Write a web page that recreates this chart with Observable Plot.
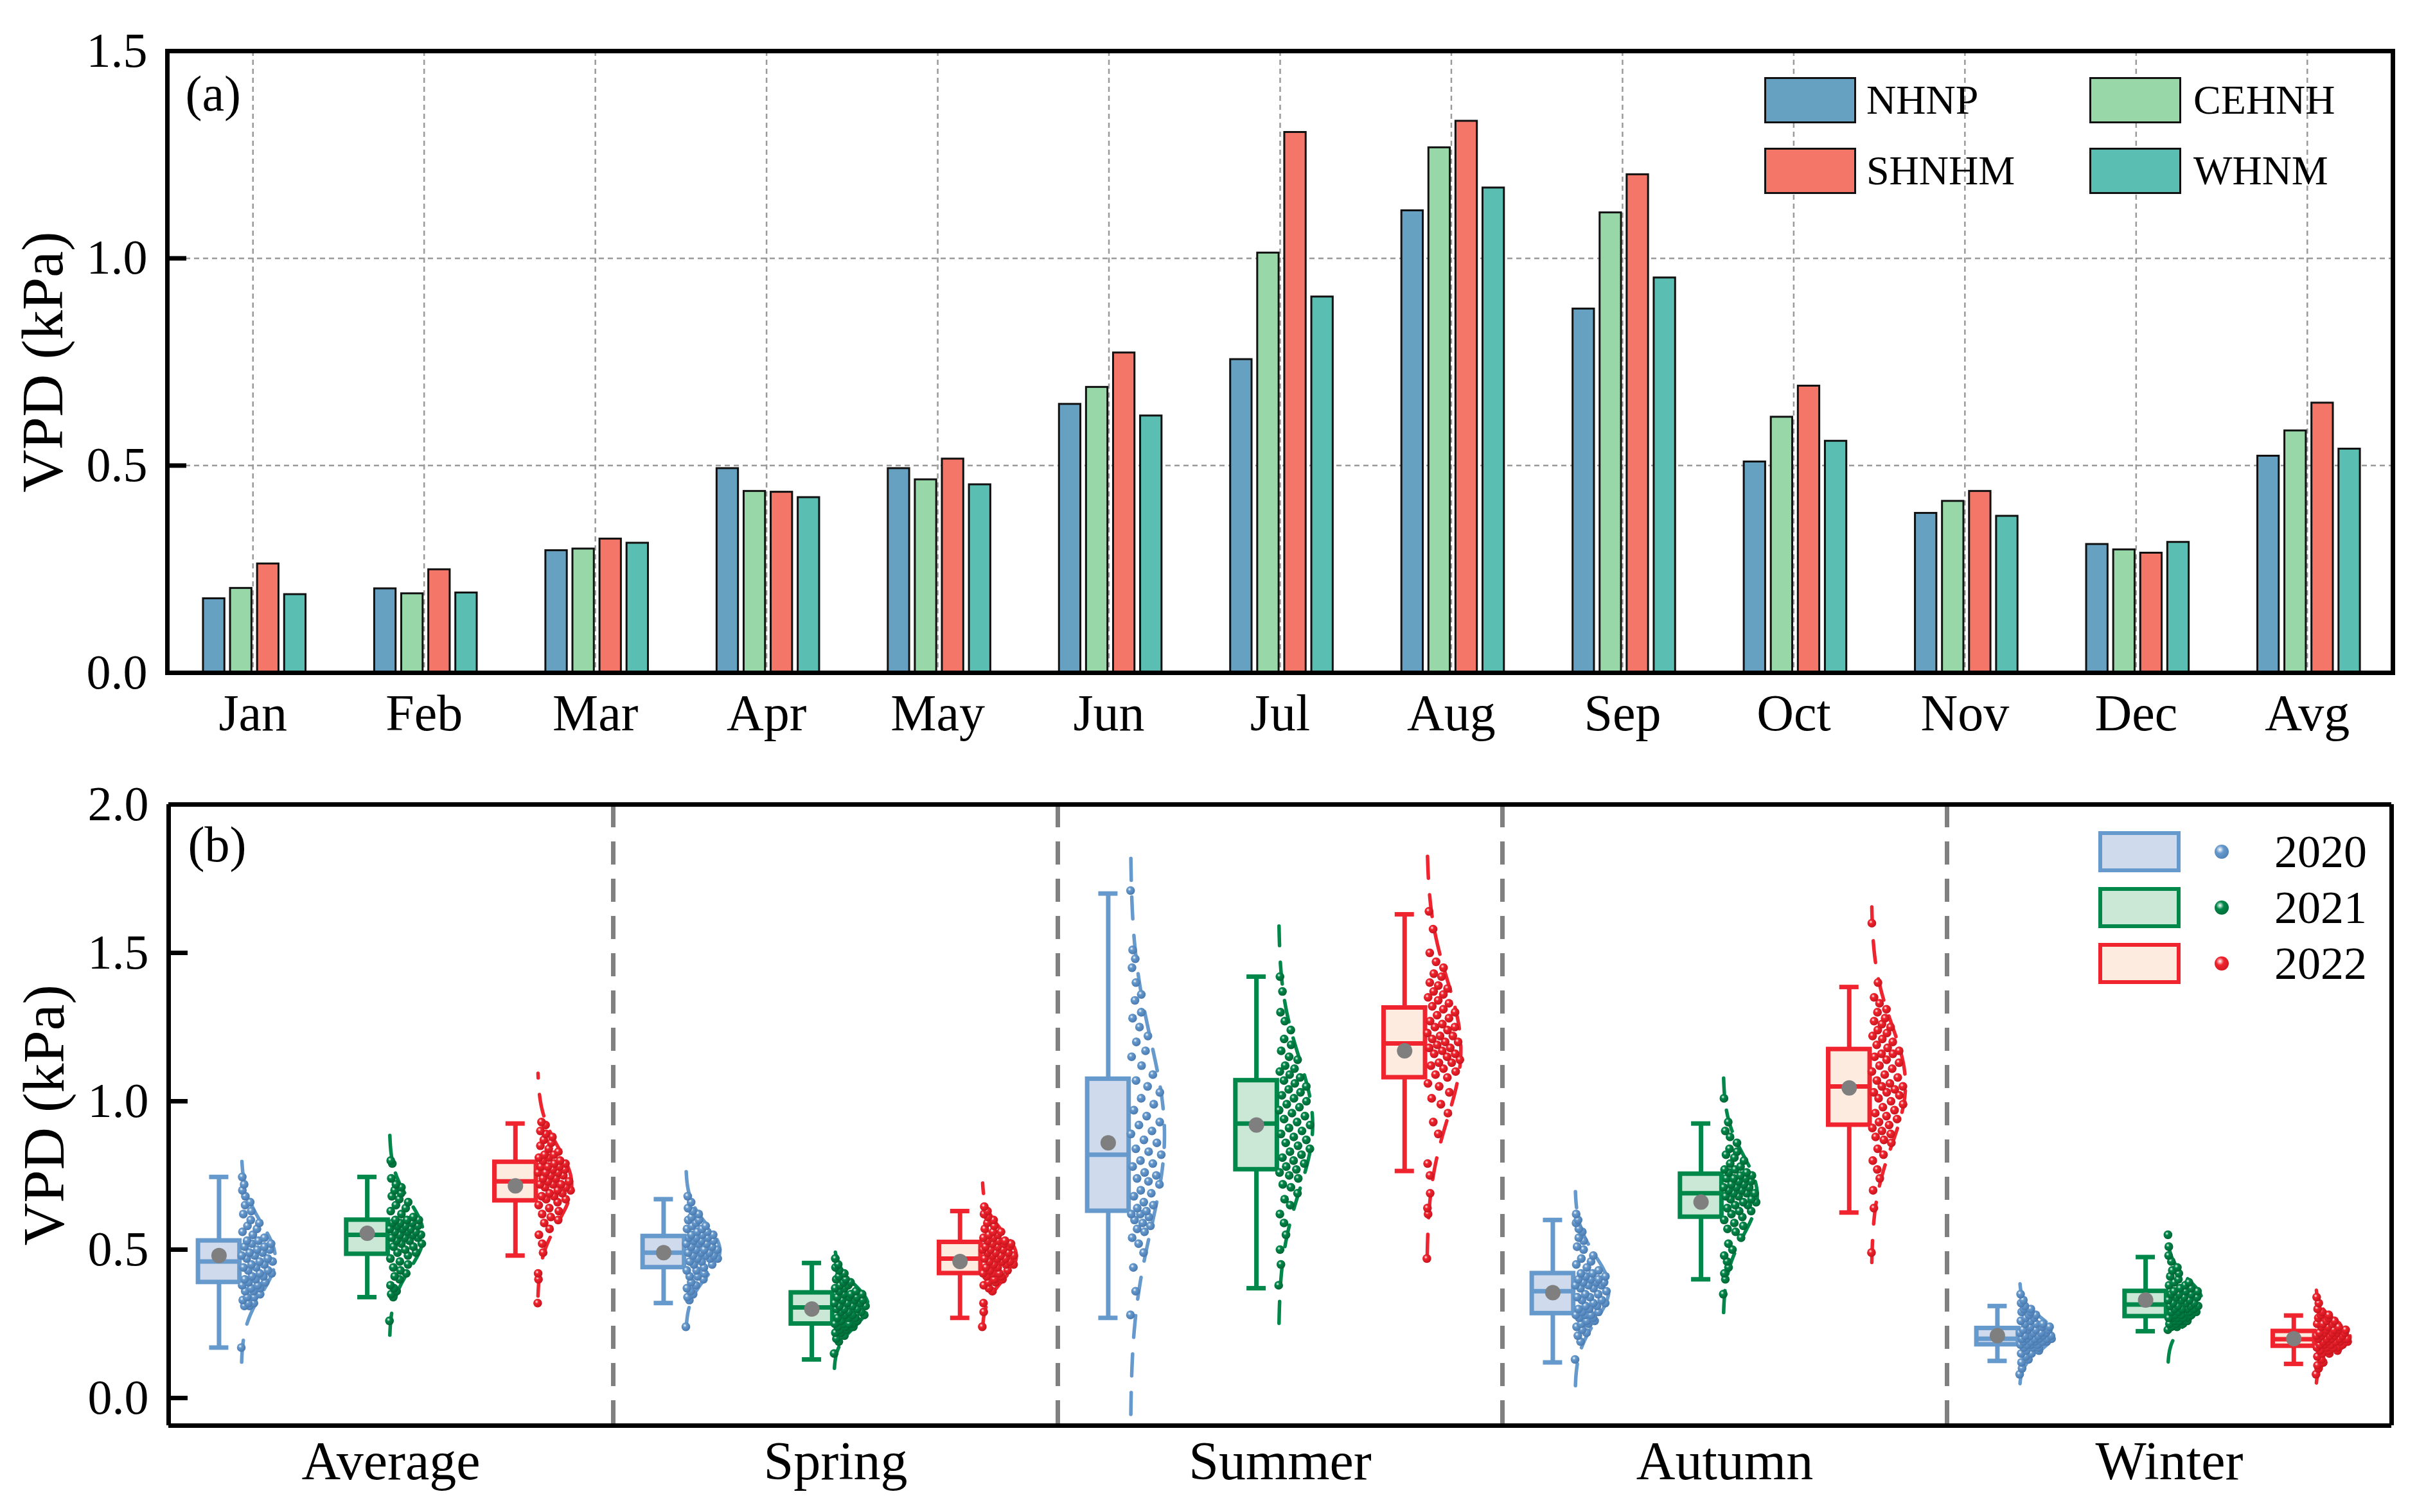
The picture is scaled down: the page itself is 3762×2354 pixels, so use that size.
<!DOCTYPE html>
<html>
<head>
<meta charset="utf-8">
<script src="https://cdn.jsdelivr.net/npm/d3@7"></script>
<script src="https://cdn.jsdelivr.net/npm/@observablehq/plot@0.6"></script>
<style>
html, body { margin: 0; padding: 0; background: #fff; }
#wrap { position: relative; width: 3762px; height: 2354px; font-family: "Liberation Serif", "Times New Roman", serif; background: #fff; }
#wrap svg { display: block; }
.sw { position: absolute; box-sizing: border-box; }
.lt { position: absolute; color: #000; white-space: nowrap; }
.ball { position: absolute; border-radius: 50%; }
</style>
</head>
<body>
<div id="wrap"></div>
<script>
// ---------------- Panel (a) data ----------------
const months = ["Jan","Feb","Mar","Apr","May","Jun","Jul","Aug","Sep","Oct","Nov","Dec","Avg"];
const stations = ["NHNP","CEHNH","SHNHM","WHNM"];
const NHNP  = [0.179,0.203,0.295,0.493,0.493,0.648,0.756,1.115,0.878,0.509,0.385,0.310,0.523];
const CEHNH = [0.204,0.191,0.299,0.438,0.466,0.689,1.013,1.267,1.110,0.617,0.414,0.297,0.584];
const SHNHM = [0.263,0.249,0.323,0.436,0.516,0.772,1.304,1.331,1.202,0.692,0.438,0.289,0.651];
const WHNM  = [0.189,0.193,0.313,0.423,0.454,0.620,0.907,1.170,0.953,0.559,0.378,0.315,0.540];
const yTicksA = [0, 0.5, 1.0, 1.5];
const stationColors = ["#67a1c1","#98d8a8","#f37669","#5bbeb2"];

// ---------------- Panel (b) data ----------------
const seasons = ["Average","Spring","Summer","Autumn","Winter"];
const years = ["2020","2021","2022"];
const yTicksB = [0, 0.5, 1.0, 1.5, 2.0];
// box statistics, season-major order (Average 2020, 2021, 2022, Spring 2020, ...)
const boxLo   = [0.17,0.34,0.48, 0.32,0.13,0.27, 0.27,0.37,0.765, 0.12,0.40,0.625, 0.125,0.225,0.115];
const boxQ1   = [0.39,0.485,0.665, 0.44,0.25,0.42, 0.63,0.77,1.08, 0.285,0.61,0.92, 0.18,0.275,0.175];
const boxMed  = [0.46,0.55,0.73, 0.49,0.305,0.47, 0.82,0.925,1.195, 0.36,0.69,1.05, 0.20,0.315,0.198];
const boxQ3   = [0.53,0.60,0.795, 0.545,0.355,0.525, 1.075,1.07,1.315, 0.42,0.755,1.175, 0.235,0.36,0.225];
const boxHi   = [0.745,0.745,0.925, 0.67,0.455,0.63, 1.70,1.42,1.63, 0.60,0.925,1.385, 0.31,0.475,0.278];
const boxMean = [0.48,0.555,0.715, 0.49,0.30,0.46, 0.86,0.92,1.17, 0.355,0.66,1.045, 0.21,0.33,0.20];

const ptsAverage2020 = [0.17,0.31,0.31,0.32,0.32,0.33,0.34,0.34,0.35,0.36,0.36,0.37,0.37,0.38,0.38,0.39,0.39,0.40,0.40,0.41,0.41,0.42,0.42,0.43,0.43,0.44,0.44,0.45,0.45,0.46,0.46,0.47,0.47,0.48,0.48,0.49,0.49,0.50,0.50,0.51,0.51,0.52,0.52,0.53,0.53,0.54,0.55,0.56,0.57,0.58,0.59,0.60,0.62,0.63,0.65,0.66,0.68,0.70,0.72,0.745];
const ptsAverage2021 = [0.26,0.34,0.35,0.36,0.37,0.38,0.40,0.41,0.42,0.43,0.44,0.45,0.46,0.47,0.48,0.49,0.49,0.50,0.51,0.51,0.52,0.52,0.53,0.53,0.54,0.54,0.54,0.55,0.55,0.55,0.56,0.56,0.56,0.57,0.57,0.57,0.58,0.58,0.58,0.59,0.59,0.59,0.60,0.60,0.60,0.61,0.62,0.63,0.64,0.65,0.66,0.67,0.68,0.69,0.70,0.71,0.72,0.74,0.79,0.80];
const ptsAverage2022 = [0.32,0.40,0.42,0.49,0.52,0.55,0.57,0.59,0.60,0.61,0.62,0.63,0.64,0.65,0.66,0.67,0.67,0.68,0.68,0.69,0.69,0.70,0.70,0.71,0.71,0.72,0.72,0.72,0.73,0.73,0.74,0.74,0.75,0.75,0.76,0.76,0.76,0.77,0.77,0.78,0.78,0.78,0.79,0.79,0.80,0.80,0.81,0.81,0.82,0.82,0.83,0.84,0.85,0.86,0.87,0.88,0.89,0.90,0.92,0.93];
const ptsSpring2020 = [0.24,0.33,0.34,0.35,0.36,0.37,0.38,0.39,0.40,0.41,0.41,0.42,0.43,0.43,0.44,0.45,0.45,0.46,0.46,0.47,0.47,0.47,0.48,0.48,0.48,0.49,0.49,0.49,0.50,0.50,0.50,0.51,0.51,0.52,0.52,0.52,0.53,0.53,0.53,0.54,0.54,0.54,0.55,0.55,0.55,0.56,0.56,0.57,0.57,0.58,0.58,0.59,0.60,0.60,0.61,0.62,0.63,0.64,0.66,0.68];
const ptsSpring2021 = [0.15,0.19,0.20,0.21,0.22,0.22,0.23,0.23,0.24,0.24,0.24,0.25,0.25,0.25,0.25,0.26,0.26,0.27,0.27,0.27,0.28,0.28,0.28,0.29,0.29,0.29,0.30,0.30,0.30,0.31,0.31,0.31,0.32,0.32,0.32,0.33,0.33,0.33,0.34,0.34,0.34,0.35,0.35,0.35,0.36,0.36,0.37,0.37,0.38,0.38,0.39,0.39,0.40,0.40,0.41,0.42,0.43,0.44,0.45,0.47];
const ptsSpring2022 = [0.24,0.29,0.32,0.36,0.37,0.38,0.39,0.39,0.40,0.40,0.41,0.41,0.42,0.42,0.42,0.43,0.43,0.44,0.44,0.45,0.45,0.45,0.46,0.46,0.46,0.47,0.47,0.47,0.48,0.48,0.48,0.49,0.49,0.49,0.50,0.50,0.50,0.51,0.51,0.51,0.52,0.52,0.52,0.53,0.53,0.53,0.54,0.54,0.55,0.55,0.56,0.56,0.57,0.58,0.59,0.60,0.61,0.62,0.63,0.645];
const ptsSummer2020 = [0.28,0.36,0.44,0.49,0.52,0.54,0.56,0.57,0.58,0.59,0.60,0.61,0.62,0.62,0.63,0.64,0.65,0.66,0.68,0.69,0.70,0.72,0.73,0.74,0.75,0.76,0.78,0.79,0.80,0.82,0.83,0.84,0.86,0.87,0.89,0.90,0.92,0.93,0.95,0.97,0.99,1.01,1.03,1.05,1.07,1.09,1.12,1.15,1.17,1.20,1.22,1.25,1.28,1.30,1.34,1.36,1.40,1.45,1.48,1.51,1.71];
const ptsSummer2021 = [0.38,0.45,0.50,0.55,0.59,0.62,0.65,0.67,0.69,0.71,0.72,0.74,0.75,0.76,0.77,0.78,0.79,0.80,0.81,0.82,0.83,0.84,0.85,0.86,0.87,0.88,0.89,0.90,0.91,0.92,0.93,0.94,0.95,0.96,0.97,0.98,0.99,1.00,1.01,1.02,1.03,1.04,1.05,1.06,1.07,1.08,1.09,1.10,1.11,1.12,1.14,1.15,1.17,1.19,1.21,1.24,1.27,1.30,1.37,1.42];
const ptsSummer2022 = [0.47,0.62,0.64,0.69,0.75,0.79,0.89,0.93,0.96,0.99,1.01,1.03,1.05,1.06,1.08,1.09,1.10,1.11,1.12,1.13,1.13,1.14,1.15,1.16,1.16,1.17,1.18,1.18,1.19,1.20,1.20,1.21,1.22,1.22,1.23,1.24,1.25,1.25,1.26,1.27,1.28,1.29,1.30,1.31,1.32,1.33,1.34,1.35,1.36,1.37,1.38,1.39,1.40,1.42,1.43,1.45,1.47,1.50,1.58,1.64];
const ptsAutumn2020 = [0.13,0.19,0.21,0.22,0.23,0.24,0.25,0.25,0.26,0.26,0.27,0.27,0.28,0.28,0.28,0.29,0.29,0.30,0.30,0.31,0.31,0.32,0.32,0.33,0.33,0.34,0.34,0.35,0.35,0.36,0.37,0.37,0.38,0.38,0.38,0.39,0.39,0.39,0.40,0.40,0.40,0.41,0.41,0.42,0.42,0.43,0.44,0.45,0.46,0.47,0.48,0.50,0.51,0.53,0.54,0.56,0.57,0.59,0.60,0.62];
const ptsAutumn2021 = [0.35,0.40,0.42,0.44,0.46,0.48,0.50,0.52,0.54,0.56,0.57,0.58,0.59,0.60,0.61,0.62,0.63,0.63,0.64,0.65,0.65,0.66,0.66,0.67,0.67,0.68,0.68,0.69,0.69,0.69,0.70,0.70,0.71,0.71,0.71,0.72,0.72,0.73,0.73,0.74,0.74,0.74,0.75,0.75,0.76,0.76,0.77,0.77,0.78,0.79,0.80,0.81,0.82,0.83,0.84,0.86,0.88,0.90,0.93,1.01];
const ptsAutumn2022 = [0.49,0.64,0.70,0.74,0.77,0.80,0.82,0.84,0.86,0.87,0.88,0.89,0.90,0.91,0.92,0.93,0.94,0.95,0.96,0.97,0.98,0.99,1.00,1.01,1.02,1.03,1.03,1.04,1.05,1.05,1.06,1.07,1.08,1.09,1.10,1.11,1.12,1.13,1.14,1.15,1.16,1.16,1.17,1.18,1.19,1.20,1.21,1.22,1.23,1.24,1.25,1.26,1.27,1.28,1.30,1.31,1.33,1.35,1.40,1.60];
const ptsWinter2020 = [0.08,0.10,0.12,0.13,0.14,0.15,0.15,0.16,0.16,0.17,0.17,0.17,0.18,0.18,0.18,0.18,0.19,0.19,0.19,0.19,0.19,0.20,0.20,0.20,0.20,0.20,0.20,0.21,0.21,0.21,0.21,0.21,0.22,0.22,0.22,0.22,0.23,0.23,0.23,0.23,0.24,0.24,0.24,0.25,0.25,0.25,0.26,0.26,0.27,0.27,0.28,0.28,0.29,0.29,0.30,0.30,0.31,0.32,0.33,0.35];
const ptsWinter2021 = [0.23,0.24,0.24,0.25,0.25,0.25,0.26,0.26,0.26,0.26,0.27,0.27,0.27,0.27,0.27,0.28,0.28,0.28,0.29,0.29,0.29,0.29,0.30,0.30,0.30,0.30,0.31,0.31,0.31,0.31,0.32,0.32,0.32,0.33,0.33,0.33,0.34,0.34,0.34,0.35,0.35,0.35,0.36,0.36,0.36,0.37,0.37,0.38,0.38,0.39,0.39,0.40,0.41,0.42,0.43,0.44,0.46,0.48,0.51,0.55];
const ptsWinter2022 = [0.08,0.10,0.11,0.12,0.13,0.14,0.15,0.15,0.16,0.16,0.16,0.17,0.17,0.17,0.17,0.18,0.18,0.18,0.18,0.19,0.19,0.19,0.19,0.19,0.20,0.20,0.20,0.20,0.20,0.20,0.21,0.21,0.21,0.21,0.21,0.22,0.22,0.22,0.22,0.22,0.23,0.23,0.23,0.23,0.24,0.24,0.24,0.25,0.25,0.25,0.26,0.26,0.27,0.27,0.28,0.28,0.29,0.30,0.32,0.34];
const pointGroups = [
  ptsAverage2020, ptsAverage2021, ptsAverage2022,
  ptsSpring2020, ptsSpring2021, ptsSpring2022,
  ptsSummer2020, ptsSummer2021, ptsSummer2022,
  ptsAutumn2020, ptsAutumn2021, ptsAutumn2022,
  ptsWinter2020, ptsWinter2021, ptsWinter2022
];
const yearStroke = ["#6699cc","#00874a","#f0242e"];
const yearFill   = ["#cfdaec","#cbe8d6","#fdebdf"];
const yearDark   = ["#4576ad","#00602f","#c3121b"];

// ---------------- layout / style constants ----------------
const W = 3762, ML = 260, MR = 38;
const FONT = "Liberation Serif";
const BAR_START = 0.21, BAR_STEP = 0.158, BAR_W = 0.125;   // fractions of a month band
const BOX_C = 0.34, BOX_HALF = 0.14, CAP_HALF = 0.065;      // positions inside a year slot (units of the inner x scale)
const PT_BASE = 0.49, PT_SPREAD = 0.23;
const yDomainB = [-0.093, 2.0];

const wrap = document.getElementById("wrap");

// ================= Panel (a) =================
const barRows = months.flatMap((m, mi) => stations.map((s, si) => ({
  month: m, station: s, value: [NHNP, CEHNH, SHNHM, WHNM][si][mi]
})));
const bw = (W - ML - MR) / months.length;
const grid = {stroke: "#9a9a9a", strokeOpacity: 1, strokeWidth: 2.5, strokeDasharray: "8,6"};

const svgA = Plot.plot({
  width: W, height: 1180,
  marginLeft: ML, marginRight: MR, marginTop: 79, marginBottom: 133,
  style: {fontFamily: FONT, fontSize: "76px", background: "#fff", color: "#000"},
  x: {domain: months, padding: 0, round: false},
  y: {domain: [0, 1.5]},
  marks: [
    Plot.gridX({...grid}),
    Plot.gridY({...grid, ticks: [0.5, 1.0]}),
    ...stations.map((s, i) => Plot.barY(barRows.filter(d => d.station === s), {
      x: "month", y: "value", fill: stationColors[i], stroke: "#111", strokeWidth: 3,
      insetLeft: bw * (BAR_START + i * BAR_STEP),
      insetRight: bw * (1 - BAR_START - i * BAR_STEP - BAR_W)
    })),
    Plot.frame({stroke: "#000", strokeWidth: 7}),
    Plot.axisY({ticks: yTicksA, tickFormat: d3.format(".1f"), tickSize: -30, tickPadding: 61,
      strokeWidth: 7, fontSize: 76, label: null}),
    Plot.axisX({tickSize: 0, tickPadding: 33, fontSize: 80, label: null}),
    Plot.text(["(a)"], {frameAnchor: "top-left", dx: 28, dy: 68, textAnchor: "start", lineAnchor: "middle", fontSize: 78}),
    Plot.text(["VPD (kPa)"], {frameAnchor: "left", dx: -193, rotate: -90, textAnchor: "middle", lineAnchor: "middle",
      fontSize: 92})
  ]
});
wrap.appendChild(svgA);

// ================= Panel (b) =================
const boxRows = seasons.flatMap((s, si) => years.map((y, yi) => {
  const k = si * 3 + yi;
  return {season: s, year: y, yi, lo: boxLo[k], q1: boxQ1[k], med: boxMed[k], q3: boxQ3[k], hi: boxHi[k], mean: boxMean[k]};
}));
const PHI = 0.6180339887;
const pointRows = [], curveRows = [];
seasons.forEach((s, si) => years.forEach((y, yi) => {
  const vals = pointGroups[si * 3 + yi];
  const mu = d3.mean(vals), sd = d3.deviation(vals);
  const env = v => Math.exp(-((v - mu) ** 2) / (2 * sd * sd));
  vals.forEach((v, i) => {
    const u = (i * PHI) % 1;
    pointRows.push({season: s, year: y, yi, v, x: yi + PT_BASE + u * PT_SPREAD * env(v)});
  });
  d3.range(61).forEach(k => {
    const v = mu - 3 * sd + k * sd * 0.1;
    curveRows.push({season: s, year: y, yi, key: s + y, v, x: yi + PT_BASE + PT_SPREAD * env(v)});
  });
}));

const bMarks = [];
years.forEach((yr, yi) => {
  const bx = boxRows.filter(d => d.yi === yi);
  bMarks.push(
    Plot.line(curveRows.filter(d => d.yi === yi), {fx: "season", x: "x", y: "v", z: "key", stroke: yearStroke[yi],
      strokeWidth: 5.5, strokeDasharray: "34,26", curve: "basis", clip: true}),
    Plot.ruleX(bx, {fx: "season", x: d => d.yi + BOX_C, y1: "lo", y2: "hi", stroke: yearStroke[yi], strokeWidth: 7}),
    Plot.ruleY(bx, {fx: "season", y: "hi", x1: d => d.yi + BOX_C - CAP_HALF, x2: d => d.yi + BOX_C + CAP_HALF, stroke: yearStroke[yi], strokeWidth: 7}),
    Plot.ruleY(bx, {fx: "season", y: "lo", x1: d => d.yi + BOX_C - CAP_HALF, x2: d => d.yi + BOX_C + CAP_HALF, stroke: yearStroke[yi], strokeWidth: 7}),
    Plot.rect(bx, {fx: "season", x1: d => d.yi + BOX_C - BOX_HALF, x2: d => d.yi + BOX_C + BOX_HALF, y1: "q1", y2: "q3",
      fill: yearFill[yi], stroke: yearStroke[yi], strokeWidth: 7}),
    Plot.ruleY(bx, {fx: "season", y: "med", x1: d => d.yi + BOX_C - BOX_HALF, x2: d => d.yi + BOX_C + BOX_HALF, stroke: yearStroke[yi], strokeWidth: 7}),
    Plot.dot(bx, {fx: "season", x: d => d.yi + BOX_C, y: "mean", r: 12, fill: "#7f7f7f", stroke: "none"}),
    Plot.dot(pointRows.filter(d => d.yi === yi), {fx: "season", x: "x", y: "v", r: 6.8, fill: `url(#ball${yi})`, stroke: "none"})
  );
});

const svgB = Plot.plot({
  width: W, height: 1174,
  marginLeft: ML, marginRight: MR, marginTop: 72, marginBottom: 135,
  style: {fontFamily: FONT, fontSize: "76px", background: "#fff", color: "#000"},
  fx: {domain: seasons, padding: 0},
  x: {domain: [0, 3], axis: null},
  y: {domain: yDomainB},
  marks: [
    ...bMarks,
    Plot.ruleX(seasons.slice(1), {fx: d => d, x: 0, stroke: "#808080", strokeWidth: 7, strokeDasharray: "36,22"}),
    Plot.ruleY([yDomainB[1]], {stroke: "#000", strokeWidth: 7}),
    Plot.ruleY([yDomainB[0]], {stroke: "#000", strokeWidth: 7}),
    Plot.ruleX([seasons[0]], {fx: d => d, x: 0, stroke: "#000", strokeWidth: 7}),
    Plot.ruleX([seasons[seasons.length - 1]], {fx: d => d, x: 3, stroke: "#000", strokeWidth: 7}),
    Plot.axisY({ticks: yTicksB, tickFormat: d3.format(".1f"), tickSize: -30, tickPadding: 61,
      strokeWidth: 7, fontSize: 76, label: null}),
    Plot.axisFx({anchor: "bottom", tickSize: 0, tickPadding: 24, fontSize: 84, label: null}),
    Plot.text(["(b)"], {fx: () => seasons[0], frameAnchor: "top-left", dx: 30, dy: 64, textAnchor: "start", lineAnchor: "middle", fontSize: 78}),
    Plot.text(["VPD (kPa)"], {fx: () => seasons[0], frameAnchor: "left", dx: -193, rotate: -90, textAnchor: "middle", lineAnchor: "middle",
      fontSize: 92})
  ]
});
// shaded "ball" gradients for the scatter points
const defs = d3.select(svgB).insert("defs", ":first-child");
years.forEach((y, yi) => {
  const g = defs.append("radialGradient").attr("id", `ball${yi}`).attr("cx", "0.38").attr("cy", "0.35").attr("r", "0.7");
  g.append("stop").attr("offset", "0").attr("stop-color", "#ffffff");
  g.append("stop").attr("offset", "0.28").attr("stop-color", yearStroke[yi]);
  g.append("stop").attr("offset", "1").attr("stop-color", yearDark[yi]);
});
wrap.appendChild(svgB);

// ================= Legends (HTML overlays) =================
function add(cls, css, html) {
  const el = document.createElement("div");
  el.className = cls;
  Object.assign(el.style, css);
  if (html) el.textContent = html;
  wrap.appendChild(el);
}
const legA = [
  {left: 2746, top: 120, tx: 2905},
  {left: 3252, top: 120, tx: 3414},
  {left: 2746, top: 230, tx: 2905},
  {left: 3252, top: 230, tx: 3414}
];
// legend order: NHNP, CEHNH (row 1), SHNHM, WHNM (row 2)
stations.forEach((s, i) => {
  const p = legA[i];
  add("sw", {left: p.left + "px", top: p.top + "px", width: "143px", height: "72px", background: stationColors[i], border: "3px solid #111"});
  add("lt", {left: p.tx + "px", top: (p.top + 36 - 40) + "px", height: "80px", lineHeight: "80px", fontSize: "64px"}, s);
});
const legBTops = [1294, 1381, 1468];
years.forEach((y, yi) => {
  const t = legBTops[yi];
  add("sw", {left: "3266px", top: t + "px", width: "128px", height: "64px", background: yearFill[yi], border: `6px solid ${yearStroke[yi]}`});
  add("ball", {left: (3458 - 11) + "px", top: (t + 32 - 11) + "px", width: "22px", height: "22px",
    background: `radial-gradient(circle at 38% 35%, #fff 0%, ${yearStroke[yi]} 30%, ${yearDark[yi]} 100%)`});
  add("lt", {left: "3540px", top: (t + 32 - 42) + "px", height: "84px", lineHeight: "84px", fontSize: "72px"}, y);
});
</script>
</body>
</html>
